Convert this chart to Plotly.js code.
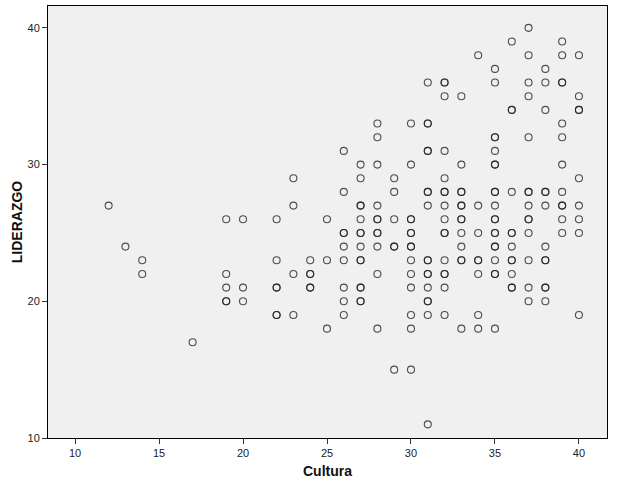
<!DOCTYPE html>
<html>
<head>
<meta charset="utf-8">
<script src="https://cdn.plot.ly/plotly-3.0.1.min.js"></script>
<style>html,body{margin:0;padding:0;background:#fff;}#chart{width:619px;height:484px;}</style>
</head>
<body>
<div id="chart"></div>
<script>
// Cultura (x) values, one entry per observation
const cultura = [
  12,
  13,
  14,14,
  17,
  19,19,19,19,19,
  20,20,20,
  22,22,22,22,22,22,
  23,23,23,23,
  24,24,24,24,24,
  25,25,25,
  26,26,26,26,26,26,26,26,26,
  27,27,27,27,27,27,27,27,27,27,27,27,27,27,
  28,28,28,28,28,28,28,28,28,28,28,
  29,29,29,29,29,29,
  30,30,30,30,30,30,30,30,30,30,30,30,30,30,
  31,31,31,31,31,31,31,31,31,31,31,31,31,31,31,31,31,
  32,32,32,32,32,32,32,32,32,32,32,32,32,32,32,32,
  33,33,33,33,33,33,33,33,33,33,33,33,33,
  34,34,34,34,34,34,34,34,
  35,35,35,35,35,35,35,35,35,35,35,35,35,35,35,35,35,35,35,35,
  36,36,36,36,36,36,36,36,36,36,36,36,
  37,37,37,37,37,37,37,37,37,37,37,37,37,37,
  38,38,38,38,38,38,38,38,38,38,38,38,
  39,39,39,39,39,39,39,39,39,39,39,39,
  40,40,40,40,40,40,40,40,40
];
// LIDERAZGO (y) values, paired with cultura
const liderazgo = [
  27,
  24,
  23,22,
  17,
  26,22,21,20,20,
  26,21,20,
  26,23,21,21,19,19,
  29,27,22,19,
  23,22,22,21,21,
  26,23,18,
  31,28,25,25,24,23,21,20,19,
  30,29,27,27,26,25,25,24,23,23,21,21,20,20,
  33,32,30,27,26,26,25,25,24,22,18,
  29,28,26,24,24,15,
  33,30,26,26,25,25,24,24,23,22,21,19,18,15,
  36,33,33,31,31,28,28,27,23,23,22,22,21,20,20,19,11,
  36,36,35,31,29,28,28,27,26,25,25,23,22,22,21,19,
  35,30,28,28,27,27,26,26,25,24,23,23,18,
  38,27,25,23,23,22,19,18,
  37,36,32,32,31,30,30,28,28,27,26,26,25,25,24,24,23,22,22,18,
  39,34,34,28,25,25,24,23,23,22,21,21,
  40,38,36,35,32,28,28,27,26,26,25,23,21,20,
  37,36,34,28,28,27,24,23,23,21,21,20,
  39,38,36,36,33,32,30,28,27,27,26,25,
  38,35,34,34,29,27,26,25,19
];
const xTicks = [10, 15, 20, 25, 30, 35, 40];
const yTicks = [10, 20, 30, 40];

const trace = {
  type: 'scatter',
  mode: 'markers',
  x: cultura,
  y: liderazgo,
  marker: {
    symbol: 'circle-open',
    size: 7,
    color: 'rgba(30,30,30,0.78)',
    line: {width: 1.1, color: 'rgba(30,30,30,0.78)'}
  },
  hoverinfo: 'x+y'
};

const layout = {
  width: 619,
  height: 484,
  margin: {l: 48, r: 12, t: 6, b: 46},
  paper_bgcolor: '#ffffff',
  plot_bgcolor: '#f0f0f0',
  showlegend: false,
  font: {family: 'Arial, "Liberation Sans", sans-serif', color: '#222'},
  xaxis: {
    range: [8.39, 41.67],
    tickvals: xTicks,
    ticktext: xTicks.map(String),
    ticks: 'outside',
    ticklen: 5,
    tickwidth: 1,
    tickcolor: '#333',
    tickfont: {size: 11, color: '#222'},
    showgrid: false,
    zeroline: false,
    showline: true,
    linecolor: '#000',
    linewidth: 1,
    mirror: true,
    title: {text: 'Cultura', font: {size: 14, color: '#111', family: 'Arial, "Liberation Sans", sans-serif', weight: 'bold'}, standoff: 7}
  },
  yaxis: {
    range: [10, 41.6],
    tickvals: yTicks,
    ticktext: yTicks.map(String),
    ticks: 'outside',
    ticklen: 5,
    tickwidth: 1,
    tickcolor: '#333',
    tickfont: {size: 11, color: '#222'},
    showgrid: false,
    zeroline: false,
    showline: true,
    linecolor: '#000',
    linewidth: 1,
    mirror: true,
    title: {text: 'LIDERAZGO', font: {size: 14, color: '#111', family: 'Arial, "Liberation Sans", sans-serif', weight: 'bold'}, standoff: 1}
  }
};

Plotly.newPlot('chart', [trace], layout, {displayModeBar: false, staticPlot: true});
</script>
</body>
</html>
